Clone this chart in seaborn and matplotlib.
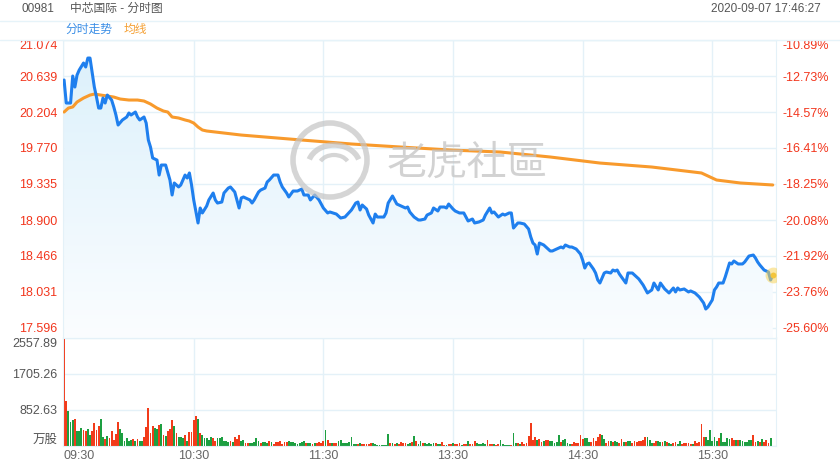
import matplotlib
matplotlib.use('Agg')
import matplotlib.pyplot as plt
from matplotlib.patches import Circle, Arc
from matplotlib.colors import LinearSegmentedColormap
from matplotlib.lines import Line2D
import numpy as np
import pandas as pd
import seaborn as sns

sns.set_style('white')
plt.rcParams['font.family'] = ['Liberation Sans', 'Noto Sans CJK SC', 'DejaVu Sans']

# intraday price, minutes after 09:30 (lunch break removed)
price_min = [0, 1, 3, 4, 5, 6, 7, 9, 10, 11, 12, 14, 15, 16, 17, 18, 19, 20, 22, 23, 24, 25, 27, 29, 30, 31,
             33, 34, 35, 37, 38, 39, 40, 41, 43, 44, 45, 47, 49, 50, 51, 53, 54, 56, 57, 58, 59, 60, 62, 63,
             64, 66, 67, 69, 70, 71, 73, 74, 76, 77, 79, 80, 81, 82, 83, 86, 87, 88, 90, 91, 93, 94, 95, 97,
             99, 100, 101, 103, 104, 106, 108, 110, 111, 113, 114, 116, 118, 119, 120, 122, 123, 126, 128,
             130, 133, 135, 136, 137, 138, 140, 141, 143, 144, 145, 148, 149, 150, 152, 153, 154, 156, 158,
             159, 160, 162, 164, 165, 167, 168, 170, 171, 173, 174, 176, 177, 178, 180, 181, 183, 185, 186,
             187, 189, 190, 192, 194, 195, 197, 198, 199, 201, 203, 204, 206, 207, 208, 210, 211, 213, 215,
             216, 217, 218, 219, 220, 222, 223, 225, 226, 228, 230, 231, 232, 234, 235, 237, 239, 240, 241,
             242, 243, 245, 246, 247, 248, 250, 251, 253, 254, 255, 256, 257, 259, 260, 261, 263, 265, 266,
             268, 270, 272, 273, 275, 276, 278, 280, 282, 283, 284, 285, 287, 289, 290, 292, 294, 296, 297,
             298, 300, 301, 302, 303, 305, 306, 308, 309, 310, 312, 314, 315, 317, 319, 320, 321, 322, 324,
             326, 327, 328]
price = [20.591, 20.313, 20.313, 20.639, 20.506, 20.651, 20.711, 20.796, 20.748, 20.856, 20.856, 20.506,
         20.385, 20.252, 20.252, 20.373, 20.313, 20.409, 20.349, 20.265, 20.168, 20.047, 20.108, 20.144,
         20.192, 20.168, 20.204, 20.144, 20.108, 20.144, 20.071, 19.866, 19.781, 19.649, 19.624, 19.443,
         19.564, 19.564, 19.383, 19.202, 19.347, 19.299, 19.323, 19.443, 19.407, 19.468, 19.323, 19.142,
         18.864, 19.045, 18.985, 19.069, 19.142, 19.226, 19.142, 19.105, 19.117, 19.226, 19.286, 19.299,
         19.238, 19.142, 19.045, 19.166, 19.178, 19.142, 19.105, 19.142, 19.238, 19.262, 19.286, 19.359,
         19.383, 19.443, 19.443, 19.359, 19.299, 19.226, 19.178, 19.250, 19.250, 19.274, 19.202, 19.202,
         19.142, 19.202, 19.142, 19.093, 19.045, 18.985, 18.997, 18.972, 18.924, 18.936, 19.021, 19.105,
         19.117, 19.021, 19.081, 19.033, 18.960, 18.864, 18.972, 18.936, 18.936, 18.985, 19.105, 19.190,
         19.142, 19.093, 19.069, 19.045, 19.057, 18.997, 18.936, 18.900, 18.900, 18.912, 18.960, 18.985,
         19.045, 19.009, 19.057, 19.057, 19.045, 19.093, 19.033, 19.009, 18.985, 18.985, 18.936, 18.888,
         18.912, 18.864, 18.876, 18.900, 18.960, 19.045, 18.985, 18.997, 18.936, 18.972, 18.960, 18.985,
         18.985, 18.803, 18.864, 18.864, 18.852, 18.791, 18.695, 18.622, 18.598, 18.489, 18.622, 18.598,
         18.574, 18.526, 18.526, 18.550, 18.574, 18.562, 18.598, 18.574, 18.574, 18.550, 18.489, 18.417,
         18.320, 18.369, 18.381, 18.308, 18.260, 18.176, 18.139, 18.260, 18.272, 18.260, 18.296, 18.284,
         18.296, 18.248, 18.176, 18.139, 18.260, 18.260, 18.212, 18.188, 18.115, 18.019, 18.055, 18.139,
         18.055, 18.139, 18.067, 18.019, 18.079, 18.031, 18.079, 18.055, 18.067, 18.031, 18.043, 18.019,
         17.970, 17.898, 17.825, 17.850, 17.934, 18.055, 18.091, 18.139, 18.139, 18.212, 18.381, 18.369,
         18.405, 18.369, 18.369, 18.393, 18.465, 18.477, 18.441, 18.393, 18.357, 18.296, 18.272, 18.176,
         18.236]

# average price line
avg_min = [0, 2, 4, 6, 9, 12, 14, 17, 20, 23, 26, 30, 34, 37, 40, 43, 46, 48, 50, 53, 56, 58, 60, 62, 64,
           66, 82, 110, 133, 156, 179, 202, 225, 248, 272, 295, 302, 313, 328]
avg_price = [20.204, 20.252, 20.265, 20.325, 20.373, 20.409, 20.421, 20.409, 20.397, 20.385, 20.361,
             20.349, 20.349, 20.337, 20.301, 20.252, 20.216, 20.204, 20.144, 20.132, 20.108, 20.095,
             20.071, 20.023, 19.987, 19.975, 19.926, 19.866, 19.818, 19.781, 19.745, 19.721, 19.661,
             19.588, 19.540, 19.468, 19.383, 19.347, 19.323]

# volume per minute (万股) and direction r=up g=down
volume = [2557, 1066, 829, 576, 616, 639, 363, 363, 418, 379,
          363, 402, 260, 363, 552, 379, 481, 631, 205, 158,
          237, 182, 355, 142, 284, 560, 402, 300, 126, 182,
          118, 142, 158, 118, 166, 118, 118, 205, 458, 892,
          316, 474, 418, 402, 497, 513, 253, 237, 355, 402,
          616, 474, 300, 205, 221, 182, 260, 118, 324, 339,
          616, 718, 639, 300, 260, 182, 182, 142, 205, 182,
          118, 182, 182, 205, 118, 118, 103, 118, 87, 221,
          158, 260, 118, 142, 63, 63, 63, 79, 103, 182,
          118, 63, 87, 87, 63, 118, 87, 47, 87, 103,
          118, 47, 87, 87, 118, 103, 87, 63, 47, 63,
          95, 110, 80, 60, 60, 50, 70, 60, 90, 71,
          110, 371, 150, 71, 71, 71, 79, 110, 134, 71,
          71, 71, 95, 213, 39, 39, 39, 79, 39, 55,
          39, 55, 79, 79, 39, 16, 32, 16, 16, 24,
          292, 79, 71, 55, 71, 39, 95, 79, 71, 55,
          79, 95, 229, 110, 55, 110, 71, 71, 55, 71,
          55, 71, 71, 39, 39, 87, 32, 32, 39, 55,
          71, 55, 55, 71, 32, 39, 39, 110, 55, 39,
          110, 71, 55, 39, 71, 55, 134, 55, 39, 55,
          32, 55, 150, 39, 32, 32, 32, 32, 308, 71,
          71, 55, 95, 55, 79, 229, 552, 134, 213, 134, 158,
          103, 118, 142, 142, 118, 118, 79, 103, 260, 87,
          142, 166, 63, 47, 47, 87, 79, 79, 252, 166,
          182, 182, 103, 103, 182, 118, 205, 276, 260, 166,
          63, 118, 118, 87, 118, 87, 79, 158, 103, 87,
          118, 118, 63, 118, 87, 118, 118, 142, 205, 205,
          142, 63, 63, 118, 118, 87, 87, 118, 87, 63,
          47, 63, 87, 47, 118, 47, 79, 79, 63, 39,
          47, 118, 63, 103, 513, 205, 205, 142, 379, 126,
          205, 126, 197, 300, 103, 87, 182, 166, 197, 142,
          142, 142, 142, 118, 87, 103, 142, 142, 260, 103,
          118, 87, 158, 87, 142, 63, 182, 458]
vol_dir = ("rrgggrgggr rggrrrrggr grrrrrgggg ggrgrggrrr rrggrgrgrr rgrgggrgrr rrgrgggggr"
           "rggggggrgr rrggrrgggg grgggrgrrr rrrrgggggg"
           "ggrggrgrr rrgrrgrrgg gggggggrgr rrrrgggggg ggrgrgrrrr ggrgrggrgg gggrggrrgr"
           "rgrrrgrrgr rrgggggrrr grrgggggrg grgrrrrrrrg"
           "rrgrrggggg rggggrrrrr rgggrrrrrg grrgrggrrg rggrrrrrrr gggrrggrgr ggrrggrrrr"
           "rgrrrrrggg gggrgggggr rgrgggggg rrgrgrrrg").replace(" ", "")

price_ticks = [21.074, 20.639, 20.204, 19.770, 19.335, 18.900, 18.466, 18.031, 17.596]
pct_labels = ['-10.89%', '-12.73%', '-14.57%', '-16.41%', '-18.25%', '-20.08%', '-21.92%', '-23.76%', '-25.60%']
vol_ticks = [0, 852.63, 1705.26, 2557.89]
vol_labels = ['万股', '852.63', '1705.26', '2557.89']
time_pos = [-0.5, 60, 120, 180, 240, 300]
time_labels = ['09:30', '10:30', '11:30', '13:30', '14:30', '15:30']

n = min(len(volume), len(vol_dir))
vol_df = pd.DataFrame({'minute': np.arange(n), 'volume': volume[:n], 'dir': list(vol_dir[:n])})

W, H = 840, 470
fig = plt.figure(figsize=(8.4, 4.7), dpi=100)


def rect(x0, y0, x1, y1):
    return [x0 / W, 1 - y1 / H, (x1 - x0) / W, (y1 - y0) / H]


grid_c = '#e4f1f8'
red = '#f2361d'
blue = '#1f7fee'
orange = '#f89a2c'

# ---- price panel
ax_p = fig.add_axes(rect(63, 40, 776, 338))
poly = ax_p.fill_between(price_min, price, 17.3, color='none', lw=0)
cmap = LinearSegmentedColormap.from_list('fade', ['#fbfdff', '#dbf0fb'])
grad = np.linspace(0, 1, 256).reshape(-1, 1)
img = ax_p.imshow(grad, extent=[-0.5, 329.5, 17.475, 21.074], origin='lower', aspect='auto',
                  cmap=cmap, zorder=1)
img.set_clip_path(poly.get_paths()[0], transform=ax_p.transData)

sns.lineplot(x=avg_min, y=avg_price, ax=ax_p, color=orange, lw=2.2, zorder=3)
sns.lineplot(x=price_min, y=price, ax=ax_p, color=blue, lw=2.2, zorder=4)
ax_p.scatter([price_min[-1]], [price[-1]], s=130, color='#f7d45c', alpha=0.55, zorder=5, lw=0)
ax_p.scatter([price_min[-1]], [price[-1]], s=18, color='#f3c53c', zorder=6, lw=0)

ax_p.set_xlim(-0.5, 329.5)
ax_p.set_ylim(17.475, 21.074)
ax_p.set_yticks(price_ticks)
ax_p.set_yticklabels([f'{t:.3f}' for t in price_ticks])
ax_p.set_xticks(time_pos)
ax_p.set_xticklabels([])
ax_p.tick_params(axis='y', colors=red, labelsize=9, length=0, pad=4)
ax_p.tick_params(axis='x', length=0)
ax_p.grid(True, color=grid_c, lw=1)
ax_p.set_axisbelow(True)
ax_p.set_xlabel('')
ax_p.set_ylabel('')
ax_p.get_yticklabels()[0].set_va('top')
for s in ax_p.spines.values():
    s.set_color(grid_c)

ax_r = ax_p.twinx()
ax_r.set_ylim(17.475, 21.074)
ax_r.set_yticks(price_ticks)
ax_r.set_yticklabels(pct_labels)
ax_r.tick_params(axis='y', colors=red, labelsize=9, length=0, pad=5)
ax_r.get_yticklabels()[0].set_va('top')
for s in ax_r.spines.values():
    s.set_visible(False)

# ---- volume panel
ax_v = fig.add_axes(rect(63, 338, 776, 446))
sns.barplot(data=vol_df, x='minute', y='volume', hue='dir', palette={'r': '#f23b1a', 'g': '#1d9f41'},
            native_scale=True, dodge=False, width=0.85, saturation=1, errorbar=None, legend=False,
            linewidth=0, ax=ax_v)
ax_v.set_xlim(-0.5, 329.5)
ax_v.set_ylim(0, 2557.89)
ax_v.set_yticks(vol_ticks)
ax_v.set_yticklabels(vol_labels)
ax_v.set_xticks(time_pos)
ax_v.set_xticklabels(time_labels)
ax_v.get_xticklabels()[0].set_ha('left')
ax_v.get_yticklabels()[0].set_va('bottom')
ax_v.get_yticklabels()[-1].set_va('top')
ax_v.tick_params(axis='y', colors='#555555', labelsize=9, length=0, pad=4)
ax_v.tick_params(axis='x', colors='#666666', labelsize=9, length=0, pad=3)
ax_v.grid(True, color=grid_c, lw=1)
ax_v.set_axisbelow(True)
ax_v.set_xlabel('')
ax_v.set_ylabel('')
for s in ax_v.spines.values():
    s.set_color(grid_c)

# ---- header
fig.text(21 / W, 1 - 9 / H, '00981', color='#555555', fontsize=8.5, va='center')
fig.text(70 / W, 1 - 9 / H, '中芯国际 - 分时图', color='#555555', fontsize=8.5, va='center')
fig.text(821 / W, 1 - 9 / H, '2020-09-07 17:46:27', color='#555555', fontsize=8.5, va='center', ha='right')
fig.text(65 / W, 1 - 30 / H, '分时走势', color='#3a8ee6', fontsize=8.5, va='center')
fig.text(124 / W, 1 - 30 / H, '均线', color='#f5a034', fontsize=8.5, va='center')
for yy in (20.5, 39.5):
    fig.add_artist(Line2D([0, 1], [1 - yy / H, 1 - yy / H], color='#e6f3f9', lw=1))

# ---- watermark
ov = fig.add_axes([0, 0, 1, 1])
ov.set_xlim(0, W)
ov.set_ylim(H, 0)
ov.axis('off')
wm = '#c4c4c4'
ov.add_patch(Circle((330, 160), 37, fill=False, ec=wm, lw=4, alpha=0.7))
ov.add_patch(Arc((334, 166), 52, 42, theta1=195, theta2=345, ec=wm, lw=4, alpha=0.7))
ov.add_patch(Arc((334, 166), 30, 22, theta1=200, theta2=340, ec=wm, lw=3, alpha=0.7))
ov.text(467, 163, '老虎社區', fontsize=29, color=wm, alpha=0.75, ha='center', va='center',
        family=['Noto Sans CJK TC', 'DejaVu Sans'])

fig.savefig('out.png', dpi=100)
